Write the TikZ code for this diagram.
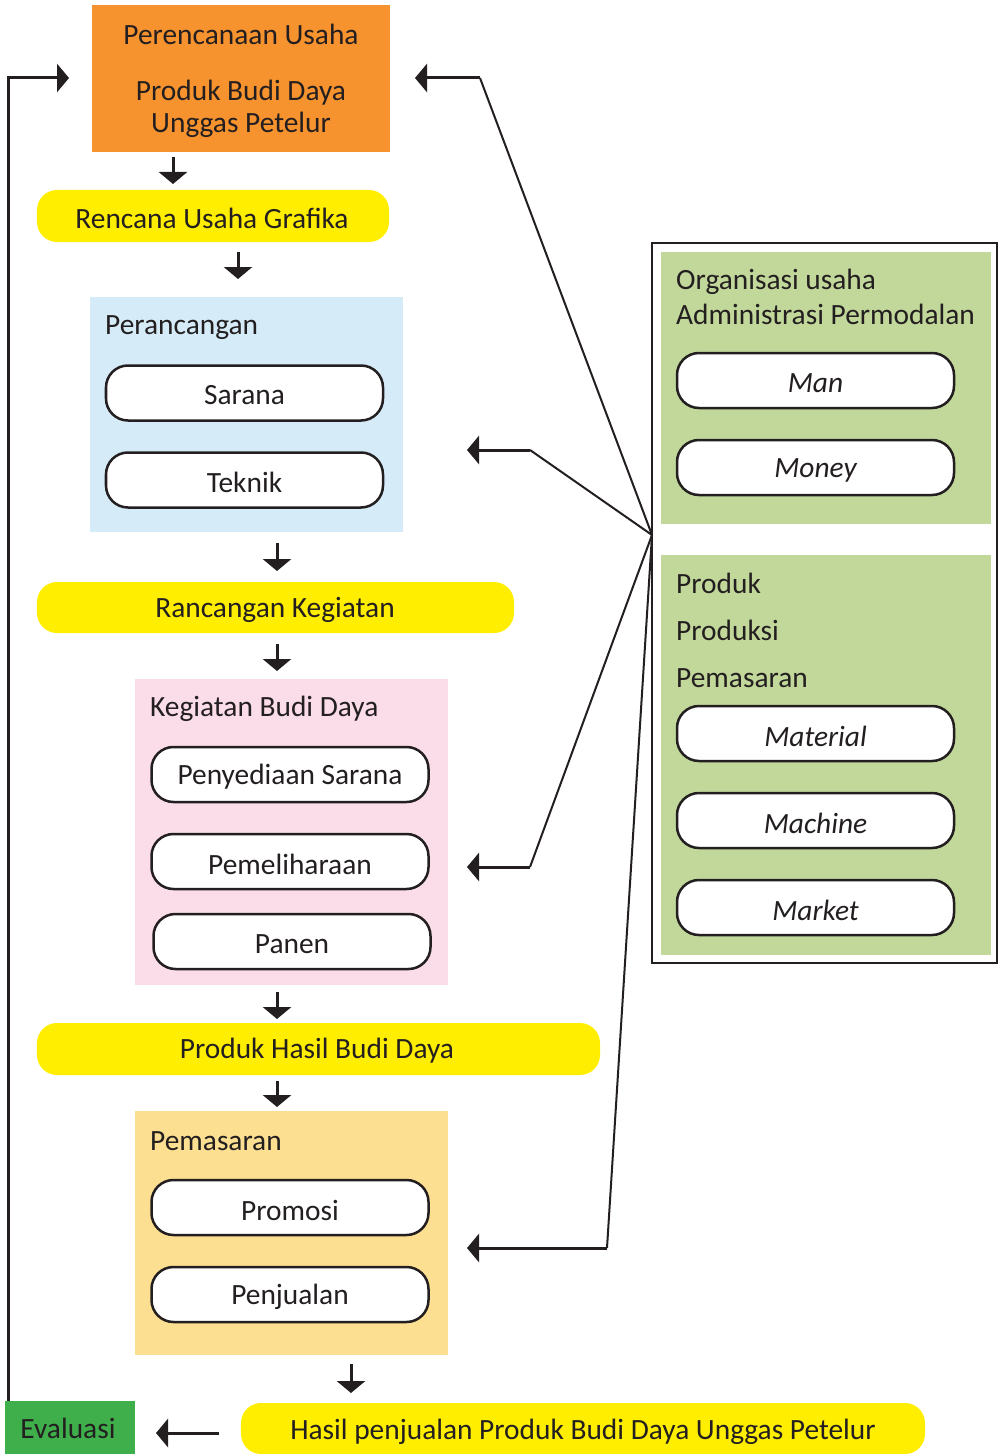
\documentclass[tikz,border=0pt]{standalone}
\usepackage{fontspec}
\setmainfont{Carlito}
\usetikzlibrary{arrows.meta}
\definecolor{txt}{HTML}{231F20}
\definecolor{orng}{HTML}{F7932F}
\definecolor{yel}{HTML}{FFEE00}
\definecolor{lblue}{HTML}{D5EBF8}
\definecolor{pinkbg}{HTML}{FADDE8}
\definecolor{lorng}{HTML}{FDDF92}
\definecolor{lgreen}{HTML}{C2D89B}
\definecolor{dgreen}{HTML}{3FAF4B}
\newcommand\lowtxt[1]{\raisebox{-2.5bp}[\height][\depth]{#1}}
\begin{document}
\begin{tikzpicture}[x=1bp,y=-1bp,
  every node/.style={text=txt},
  fnt/.style={font=\fontsize{29.5}{34}\selectfont},
  arr/.style={draw=txt, line width=3bp, -{Triangle[length=12bp,width=28bp]}},
  link/.style={draw=txt, line width=2bp},
  pill/.style={draw=txt, line width=2.5bp, fill=white, rounded corners=22bp,
    minimum width=277bp, minimum height=55bp, inner sep=0pt, fnt},
  banner/.style={fill=yel, rounded corners=20bp, inner sep=0pt, fnt},
  panel/.style={inner sep=0pt},
  tx/.style={inner sep=0pt, fnt},
  lbl/.style={anchor=west, inner sep=0pt, fnt}]
\useasboundingbox (0,0) rectangle (999,1454);

% left column panels
\node[panel, fill=orng, minimum width=298bp, minimum height=147bp] (plan) at (241,78.5) {};
\node[tx] (t1) at (241,34) {Perencanaan Usaha};
\node[tx] (t2) at (241,93) {Produk Budi Daya};
\node[tx] (t3) at (241,125) {Unggas Petelur};

\node[banner, minimum width=352bp, minimum height=52bp] (rug) at (213,216) {};
\node[tx] at (212,218) {Rencana Usaha Grafika};

\node[panel, fill=lblue, minimum width=313bp, minimum height=235bp] (perc) at (246.5,414.5) {};
\node[lbl] at (105,328) {Perancangan};
\node[pill] (sarana) at (244.5,393) {\lowtxt{Sarana}};
\node[pill] (teknik) at (244.5,480) {\lowtxt{Teknik}};

\node[banner, minimum width=477bp, minimum height=51bp] (rk) at (275.5,607.5) {};
\node[tx] at (275,610) {Rancangan Kegiatan};

\node[panel, fill=pinkbg, minimum width=313bp, minimum height=306bp] (keg) at (291.5,832) {};
\node[lbl] at (150,709) {Kegiatan Budi Daya};
\node[pill] (peny) at (290,774.5) {\lowtxt{Penyediaan Sarana}};
\node[pill] (peml) at (290,861.5) {\lowtxt{Pemeliharaan}};
\node[pill] (panen) at (292,941.5) {\lowtxt{Panen}};

\node[banner, minimum width=563bp, minimum height=52bp] (phb) at (318.5,1049) {};
\node[tx] at (317,1051) {Produk Hasil Budi Daya};

\node[panel, fill=lorng, minimum width=313bp, minimum height=244bp] (pem) at (291.5,1233) {};
\node[lbl] at (150,1141) {Pemasaran};
\node[pill] (prom) at (290,1207.5) {\lowtxt{Promosi}};
\node[pill] (penj) at (290,1294.5) {\lowtxt{Penjualan}};

\node[banner, minimum width=684bp, minimum height=51bp] (hasil) at (583,1428.5) {};
\node[tx] at (583,1432) {Hasil penjualan Produk Budi Daya Unggas Petelur};

\node[panel, fill=dgreen, minimum width=130bp, minimum height=53bp] (eval) at (70,1427.5) {};
\node[tx] at (68,1428) {Evaluasi};

% right frame
\draw[txt, line width=2bp] (652,243) rectangle (997,963);
\node[panel, fill=lgreen, minimum width=330bp, minimum height=272bp] (g1) at (826,388) {};
\node[lbl] at (676,282) {Organisasi usaha};
\node[lbl] at (676,314) {Administrasi Permodalan};
\node[pill] (man) at (815.5,380.5) {\lowtxt{\itshape Man}};
\node[pill] (money) at (815.5,467.5) {\lowtxt{\itshape Money}};

\node[panel, fill=lgreen, minimum width=330bp, minimum height=400bp] (g2) at (826,755) {};
\node[lbl] at (676,583) {Produk};
\node[lbl] at (676,630) {Produksi};
\node[lbl] at (676,678) {Pemasaran};
\node[pill] (mat) at (815.5,733.5) {\lowtxt{\itshape Material}};
\node[pill] (mach) at (815.5,820.5) {\lowtxt{\itshape Machine}};
\node[pill] (mark) at (815.5,907.5) {\lowtxt{\itshape Market}};

% down arrows
\coordinate (a1s) at (173,157); \coordinate (a1e) at (173,184);
\coordinate (a2s) at (238,252); \coordinate (a2e) at (238,279);
\coordinate (a3s) at (277,543); \coordinate (a3e) at (277,571);
\coordinate (a4s) at (277,644); \coordinate (a4e) at (277,671);
\coordinate (a5s) at (277,992); \coordinate (a5e) at (277,1019);
\coordinate (a6s) at (277,1081); \coordinate (a6e) at (277,1107);
\coordinate (a7s) at (351,1364); \coordinate (a7e) at (351,1393);
\foreach \i in {1,...,7} \draw[arr] (a\i s) -- (a\i e);

% evaluasi arrows
\coordinate (evs) at (219,1433); \coordinate (eve) at (156,1433);
\draw[arr] (evs) -- (eve);
\coordinate (fbtop) at (8,78); \coordinate (fbend) at (69,78);
\draw[arr] (eval.north west -| fbtop) -- (fbtop) -- (fbend);

% hub connectors
\coordinate (hub) at (652,535);
\coordinate (k1) at (480,78);  \coordinate (e1) at (415,78);
\coordinate (k2) at (530,450); \coordinate (e2) at (467,450);
\coordinate (k3) at (530,867); \coordinate (e3) at (467,867);
\coordinate (k4) at (607,1248); \coordinate (e4) at (467,1248);
\foreach \i in {1,...,4} {
  \draw[link] (hub) -- (k\i);
  \draw[arr] (k\i) -- (e\i);
}
\end{tikzpicture}
\end{document}
